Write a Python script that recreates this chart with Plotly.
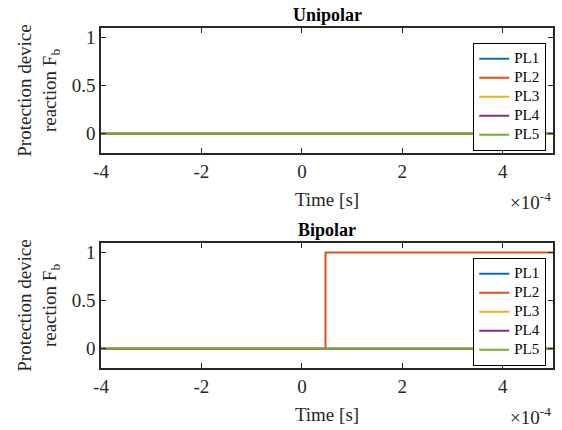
import plotly.graph_objects as go
from plotly.subplots import make_subplots

# ---- data ----
series_names = ["PL1", "PL2", "PL3", "PL4", "PL5"]
colors = ["#0072BD", "#D95319", "#EDB120", "#7E2F8E", "#77AC30"]
time_s = [-4e-4, 0.47e-4, 5e-4]
unipolar = {
    "PL1": [0, 0, 0],
    "PL2": [0, 0, 0],
    "PL3": [0, 0, 0],
    "PL4": [0, 0, 0],
    "PL5": [0, 0, 0],
}
bipolar = {
    "PL1": [0, 0, 0],
    "PL2": [0, 1, 1],
    "PL3": [0, 0, 0],
    "PL4": [0, 0, 0],
    "PL5": [0, 0, 0],
}
panel_titles = ["Unipolar", "Bipolar"]
x_tickvals = [-4e-4, -2e-4, 0, 2e-4, 4e-4]
x_ticktext = ["-4", "-2", "0", "2", "4"]
y_tickvals = [0, 0.5, 1]
y_ticktext = ["0", "0.5", "1"]

FONT = "Liberation Serif"
AX = "#262626"

fig = make_subplots(rows=2, cols=1, vertical_spacing=90 / 340)

for r, data, leg in [(1, unipolar, "legend"), (2, bipolar, "legend2")]:
    for name, col in zip(series_names, colors):
        fig.add_trace(go.Scatter(
            x=time_s, y=data[name], mode="lines",
            name="<span style='font-size:15px'>%s</span>" % name,
            line=dict(color=col, width=2, shape="hv"),
            legend=leg, showlegend=True,
        ), row=r, col=1)

axis_common = dict(
    showgrid=False, zeroline=False, showline=True, linecolor=AX, linewidth=1.5,
    mirror="ticks", ticks="inside", ticklen=5, tickwidth=1.2, tickcolor=AX,
    tickfont=dict(family=FONT, size=19, color=AX),
)
for r in (1, 2):
    fig.update_xaxes(range=[-4e-4, 5e-4], tickvals=x_tickvals, ticktext=x_ticktext,
                     title=dict(text="Time [s]", font=dict(family=FONT, size=19, color=AX), standoff=12),
                     row=r, col=1, **axis_common)
    fig.update_yaxes(range=[-0.2, 1.1], tickvals=y_tickvals, ticktext=y_ticktext,
                     title=dict(text="Protection device<br>reaction F<sub>b</sub>",
                                font=dict(family=FONT, size=19, color=AX), standoff=10),
                     row=r, col=1, **axis_common)

annotations = []
for i, (ttl, yref) in enumerate(zip(panel_titles, ["y domain", "y2 domain"])):
    xref = "x domain" if i == 0 else "x2 domain"
    annotations.append(dict(text="<b>%s</b>" % ttl, x=0.5, y=1, xref=xref, yref=yref,
                            xanchor="center", yanchor="bottom", yshift=1, showarrow=False,
                            font=dict(family=FONT, size=18, color="black")))
    annotations.append(dict(text="×10<sup>-4</sup>", x=1, y=0, xref=xref, yref=yref,
                            xanchor="right", yanchor="top", yshift=-34, showarrow=False,
                            font=dict(family=FONT, size=19, color=AX)))

legend_common = dict(
    xanchor="right", yanchor="top", x=0.9846,
    bgcolor="white", bordercolor="black", borderwidth=1.2,
    font=dict(family=FONT, size=12, color="black"),
    tracegroupgap=0, itemwidth=30,
)
fig.update_layout(
    width=562, height=430,
    margin=dict(l=101, r=7, t=28, b=62),
    plot_bgcolor="white", paper_bgcolor="white",
    annotations=annotations,
    legend=dict(y=0.9559, **legend_common),
    legend2=dict(y=0.3235, **legend_common),
    font=dict(family=FONT),
)

fig.write_html("out.html", config={"displayModeBar": False},
               post_script="document.body.style.margin='0';document.body.style.overflow='hidden';")
